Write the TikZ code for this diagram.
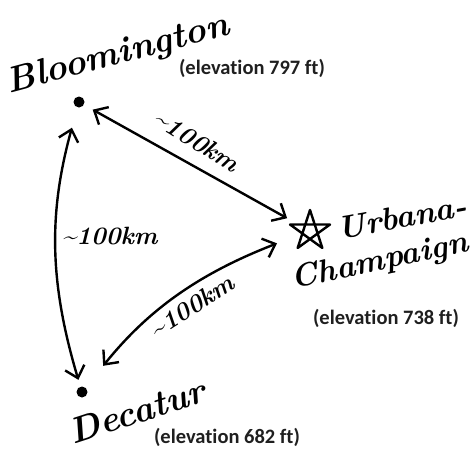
\documentclass[tikz,border=0pt]{standalone}
\usepackage{fontspec}
\newfontfamily\calib[Ligatures=NoCommon]{Carlito}
\usetikzlibrary{arrows.meta,calc}
\begin{document}
\begin{tikzpicture}[x=1pt,y=-1pt,
  hand/.style={font=\bfseries\itshape\fontsize{36}{36}\selectfont, inner sep=0pt},
  handsm/.style={font=\bfseries\itshape\fontsize{32}{32}\selectfont, inner sep=0pt},
  dist/.style={font=\bfseries\itshape\fontsize{25}{25}\selectfont, inner sep=0pt},
  elev/.style={font=\calib\bfseries\fontsize{20.5}{20.5}\selectfont, text=black!88, inner sep=0pt},
  city/.style={circle, fill=black, inner sep=0pt, minimum size=11pt},
  starnode/.style={circle, inner sep=0pt, minimum size=44pt},
  link/.style={line width=2.4pt, line cap=round,
    {Straight Barb[length=11pt,width=20pt]}-{Straight Barb[length=11pt,width=20pt]}},
]
\useasboundingbox (0,0) rectangle (474,450);
\node[city] (bl) at (79,102) {};
\node[city] (dc) at (82,392) {};
\node[starnode] (uc) at (310,231) {};
\draw[line width=2.4pt, line join=round]
  ($(uc)+(-90:21)$) -- ($(uc)+(126:21)$) -- ($(uc)+(-18:21)$) -- ($(uc)+(198:21)$) -- ($(uc)+(54:21)$) -- cycle;

\node[hand, rotate=15] (blt) at (118,55) {Bloomington};
\node[elev] (ble) at (252,68) {(elevation 797 ft)};
\node[handsm, rotate=10] (uct1) at (402,217) {Urbana-};
\node[handsm, rotate=12] (uct2) at (380,262) {Champaign};
\node[elev] (uce) at (386,318) {(elevation 738 ft)};
\node[hand, rotate=18] (dct) at (137,411) {Decatur};
\node[elev] (dce) at (227,437) {(elevation 682 ft)};

\draw[link, shorten <=10pt, shorten >=4pt] (bl) -- (uc);
\draw[link, shorten <=21pt, shorten >=7pt] (bl) to[bend right=16] (dc);
\draw[link, shorten <=28pt, shorten >=13pt] (dc) to[bend left=15] (uc);

\node[dist, rotate=-32] (l1) at (197,141) {\textasciitilde100km};
\node[dist] (l2) at (110,236) {\textasciitilde100km};
\node[dist, rotate=33] (l3) at (192,306) {\textasciitilde100km};
\end{tikzpicture}
\end{document}
